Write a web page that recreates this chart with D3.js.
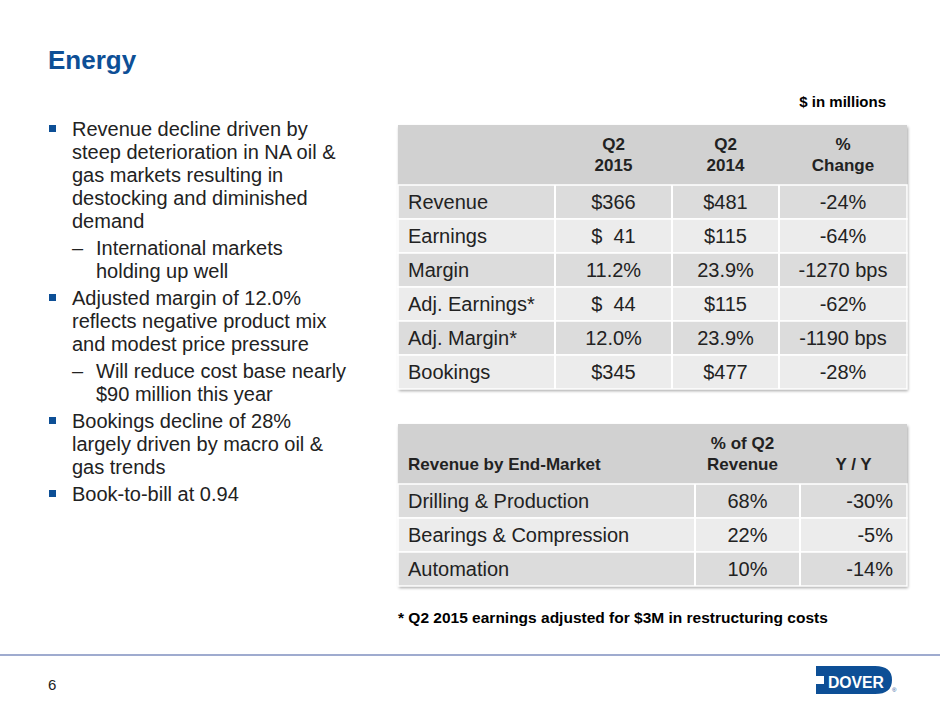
<!DOCTYPE html>
<html><head><meta charset="utf-8">
<script src="https://cdn.jsdelivr.net/npm/d3@7"></script>
<style>body{margin:0;background:#fff}svg{font-family:Arial,"Liberation Sans",sans-serif}text{white-space:pre}</style>
</head><body><svg id="s" width="940" height="705"></svg>
<script>
const metrics = ["Revenue", "Earnings", "Margin", "Adj. Earnings*", "Adj. Margin*", "Bookings"];
const q22015 = ["$366", "$  41", "11.2%", "$  44", "12.0%", "$345"];
const q22014 = ["$481", "$115", "23.9%", "$115", "23.9%", "$477"];
const pctChange = ["-24%", "-64%", "-1270 bps", "-62%", "-1190 bps", "-28%"];
const topHeaders = [["", ""], ["Q2", "2015"], ["Q2", "2014"], ["%", "Change"]];

const markets = ["Drilling & Production", "Bearings & Compression", "Automation"];
const shareOfRevenue = ["68%", "22%", "10%"];
const yoy = ["-30%", "-5%", "-14%"];

const bullets = [
  {lvl: 0, lines: ["Revenue decline driven by", "steep deterioration in NA oil &", "gas markets resulting in", "destocking and diminished", "demand"]},
  {lvl: 1, lines: ["International markets", "holding up well"]},
  {lvl: 0, lines: ["Adjusted margin of 12.0%", "reflects negative product mix", "and modest price pressure"]},
  {lvl: 1, lines: ["Will reduce cost base nearly", "$90 million this year"]},
  {lvl: 0, lines: ["Bookings decline of 28%", "largely driven by macro oil &", "gas trends"]},
  {lvl: 0, lines: ["Book-to-bill at 0.94"]}
];

const svg = d3.select("#s");
const blue = "#0d4f96";

svg.append("text").attr("x", 48).attr("y", 69).attr("fill", blue)
  .attr("font-size", 26).attr("font-weight", "bold").text("Energy");

// bullets
let y = 136;
bullets.forEach(b => {
  if (b.lvl === 0) svg.append("rect").attr("x", 49).attr("y", y - 11).attr("width", 7).attr("height", 7).attr("fill", blue);
  else svg.append("text").attr("x", 72).attr("y", y).attr("font-size", 20).attr("fill", "#222").text("–");
  b.lines.forEach(l => {
    svg.append("text").attr("x", b.lvl ? 96 : 72).attr("y", y).attr("font-size", 20).attr("fill", "#222")
      .attr("textLength", null).text(l);
    y += 23;
  });
  y += 4;
});

svg.append("text").attr("x", 886).attr("y", 107).attr("text-anchor", "end")
  .attr("font-size", 15).attr("font-weight", "bold").text("$ in millions");

const defs = svg.append("defs");
const f = defs.append("filter").attr("id", "sh").attr("x", "-5%").attr("y", "-5%").attr("width", "110%").attr("height", "115%");
f.append("feDropShadow").attr("dx", 1).attr("dy", 2).attr("stdDeviation", 1.5).attr("flood-color", "#000").attr("flood-opacity", 0.35);

function table(opts) {
  const {x0, x1, top, headH, rows, colEdges, headers, aligns, headAligns} = opts;
  const yS = d3.scaleBand().domain(d3.range(rows.length)).range([top + headH, top + headH + rows.length * 34]);
  const g = svg.append("g");
  g.append("rect").attr("x", x0).attr("y", top).attr("width", x1 - x0).attr("height", headH + rows.length * 34)
    .attr("fill", "#fff").attr("filter", "url(#sh)");
  g.append("rect").attr("x", x0).attr("y", top).attr("width", x1 - x0).attr("height", headH).attr("fill", "#d1d1d1");
  headers.forEach((h, c) => {
    const cx = headAligns[c](colEdges[c], colEdges[c + 1]);
    h.forEach((t, k) => g.append("text").attr("x", cx.x).attr("text-anchor", cx.a)
      .attr("y", top + headH - 35 + k * 21 + (h.length === 1 ? 21 : 0)).attr("font-size", 17).attr("font-weight", "bold").attr("fill", "#222").text(t));
  });
  rows.forEach((r, i) => {
    g.append("rect").attr("x", x0).attr("y", yS(i)).attr("width", x1 - x0).attr("height", yS.bandwidth())
      .attr("fill", i % 2 ? "#ececec" : "#dcdcdc").attr("stroke", "#fff").attr("stroke-width", 1.5);
    r.forEach((t, c) => {
      const p = aligns[c](colEdges[c], colEdges[c + 1]);
      g.append("text").attr("x", p.x).attr("y", yS(i) + yS.bandwidth() / 2 + 7).attr("text-anchor", p.a)
        .attr("font-size", 20).attr("fill", "#222").text(t);
    });
  });
  for (let c = 1; c < colEdges.length - 1; c++)
    g.append("line").attr("x1", colEdges[c]).attr("x2", colEdges[c]).attr("y1", top + headH).attr("y2", top + headH + rows.length * 34)
      .attr("stroke", "#fff").attr("stroke-width", 2);
}
const L = (a, b) => ({x: a + 10, a: "start"});
const C = (a, b) => ({x: (a + b) / 2, a: "middle"});
const R = (a, b) => ({x: b - 14, a: "end"});

table({x0: 398, x1: 907, top: 125, headH: 60, colEdges: [398, 555, 672, 779, 907],
  rows: metrics.map((m, i) => [m, q22015[i], q22014[i], pctChange[i]]),
  headers: topHeaders, aligns: [L, C, C, C], headAligns: [L, C, C, C]});

table({x0: 398, x1: 907, top: 424, headH: 60, colEdges: [398, 695, 800, 907],
  rows: markets.map((m, i) => [m, shareOfRevenue[i], yoy[i]]),
  headers: [["Revenue by End-Market"], ["% of Q2", "Revenue"], ["Y / Y"]], aligns: [L, C, R],
  headAligns: [L, (a, b) => ({x: (a + b) / 2 - 5, a: "middle"}), C]});

svg.append("text").attr("x", 398).attr("y", 623).attr("font-size", 15.5).attr("font-weight", "bold")
  .text("* Q2 2015 earnings adjusted for $3M in restructuring costs");

svg.append("line").attr("x1", 0).attr("x2", 940).attr("y1", 655).attr("y2", 655).attr("stroke", "#7f8fbf").attr("stroke-width", 1.5);
svg.append("text").attr("x", 48).attr("y", 690).attr("font-size", 15).attr("fill", "#222").text("6");

// logo
const lg = svg.append("g");
lg.append("path").attr("d", "M816,666 H875 Q892,666 892,680 Q892,694 875,694 H816 V684 H824 V676 H816 Z").attr("fill", "#0d4f96");
lg.append("text").attr("x", 856).attr("y", 688).attr("text-anchor", "middle").attr("font-size", 16)
  .attr("font-weight", "bold").attr("fill", "#fff").attr("textLength", 56).attr("lengthAdjust", "spacingAndGlyphs").text("DOVER");
lg.append("text").attr("x", 892).attr("y", 692).attr("font-size", 6).attr("fill", "#0d4f96").text("®");
</script></body></html>
